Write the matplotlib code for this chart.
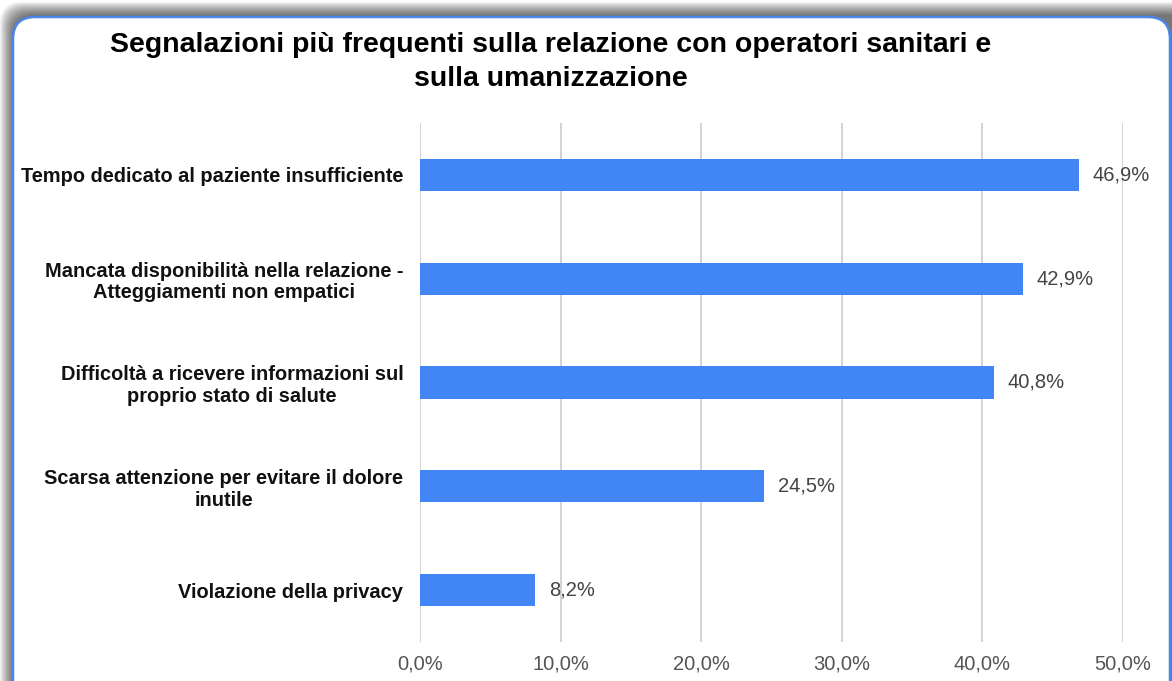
import matplotlib.pyplot as plt
from matplotlib.patches import FancyBboxPatch
from matplotlib.ticker import FuncFormatter

plt.rcParams['font.family'] = ['Liberation Sans', 'DejaVu Sans']

# dati
categorie = ["Tempo dedicato al paziente insufficiente",
             "Mancata disponibilità nella relazione -\nAtteggiamenti non empatici",
             "Difficoltà a ricevere informazioni sul\nproprio stato di salute",
             "Scarsa attenzione per evitare il dolore\ninutile",
             "Violazione della privacy"]
valori = [46.9, 42.9, 40.8, 24.5, 8.2]
tick_x = [0, 10, 20, 30, 40, 50]

W, H = 1172, 681
fig = plt.figure(figsize=(W/100, H/100), dpi=100)
inch = fig.dpi_scale_trans

# ombra grigia a sinistra e in alto (coordinate in pollici)
for i in range(14):
    sh = FancyBboxPatch(((13 - i)/100, -0.3), 12.5, (H - 15 + i)/100 + 0.3,
                        boxstyle="round,pad=0,rounding_size=0.22",
                        transform=inch, facecolor='#000000',
                        edgecolor='none', alpha=0.05, zorder=0)
    fig.patches.append(sh)
# riquadro
card = FancyBboxPatch((13/100, -0.3), (W - 13)/100 - 0.02, (H - 15)/100 + 0.28,
                      boxstyle="round,pad=0,rounding_size=0.22",
                      transform=inch, facecolor='white',
                      edgecolor='#4a86e8', linewidth=1.8, zorder=1)
fig.patches.append(card)

ax = fig.add_axes([420/W, 1 - 642/H, (1123 - 420)/W, (642 - 123)/H])
ax.set_facecolor('none')
ax.set_zorder(2)

y = range(len(categorie))
ax.barh(y, valori, height=0.31, color='#4285f4', zorder=3)
for yi, v in zip(y, valori):
    ax.text(v + 0.95, yi, f"{v:.1f}%".replace('.', ','), va='center', ha='left',
            fontsize=14.5, color='#444444')

ax.set_xlim(0, 50)
ax.set_ylim(4.5, -0.5)
ax.set_xticks(tick_x)
ax.xaxis.set_major_formatter(FuncFormatter(lambda v, p: f"{v:.1f}%".replace('.', ',')))
ax.grid(axis='x', color='#cccccc', linewidth=1.2, zorder=0)
ax.set_yticks(list(y))
ax.set_yticklabels(categorie, fontsize=14.4, fontweight='bold', color='#111111',
                   multialignment='center', linespacing=1.15)
ax.tick_params(axis='y', length=0, pad=12)
ax.tick_params(axis='x', length=0, pad=9, labelsize=14.5, labelcolor='#555555')
for s in ax.spines.values():
    s.set_visible(False)

fig.text(551/W, 1 - 62/H, "Segnalazioni più frequenti sulla relazione con operatori sanitari e\nsulla umanizzazione",
         ha='center', va='center', fontsize=20.5, fontweight='bold', linespacing=1.36,
         zorder=5)

fig.savefig('out.png', dpi=100)
